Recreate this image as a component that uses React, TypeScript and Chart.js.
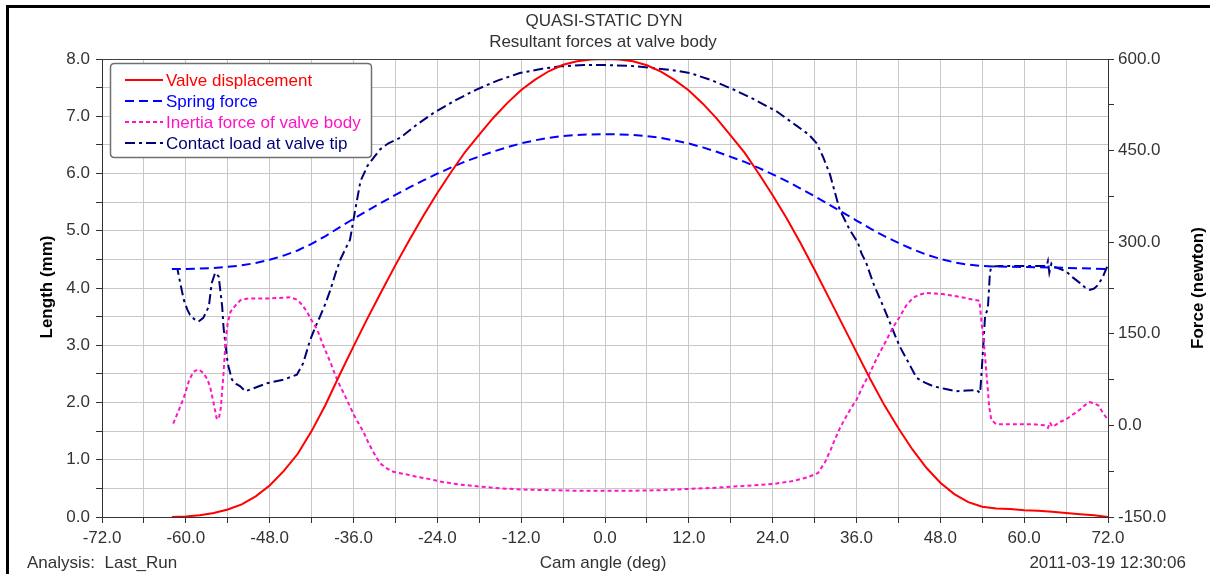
import React, { useEffect, useRef } from 'react';
import { Chart, registerables } from 'chart.js';
Chart.register(...registerables);

// ---------- data (cam angle in deg) ----------
const dispAngles = [
  -62, -60, -58, -56, -54, -52, -50, -48, -46, -44, -42, -40, -38, -36, -34, -32,
  -30, -28, -26, -24, -22, -20, -18, -16, -14, -12, -10, -8, -6, -4, -2, 0,
  2, 4, 6, 8, 10, 12, 14, 16, 18, 20, 22, 24, 26, 28, 30, 32, 34, 36, 38, 40,
  42, 44, 46, 48, 50, 52, 54, 56, 58, 60, 62, 64, 66, 68, 70, 72,
];
// Valve displacement (mm)
const dispValues = [
  0, 0.01, 0.03, 0.07, 0.13, 0.22, 0.36, 0.55, 0.8, 1.1, 1.5, 1.96, 2.48, 2.98, 3.47, 3.94,
  4.4, 4.84, 5.26, 5.66, 6.03, 6.38, 6.68, 6.97, 7.23, 7.46, 7.64, 7.79, 7.9, 7.96, 7.99, 8.0,
  7.99, 7.96, 7.89, 7.78, 7.63, 7.45, 7.22, 6.96, 6.66, 6.36, 6.0, 5.62, 5.22, 4.78, 4.32, 3.84,
  3.36, 2.88, 2.4, 1.95, 1.55, 1.18, 0.86, 0.6, 0.4, 0.26, 0.18, 0.15, 0.14, 0.12, 0.11, 0.09,
  0.07, 0.05, 0.03, 0.0,
];
// Spring force (N)
const springValues = [
  256, 256.3, 256.8, 257.9, 259.6, 262.1, 265.9, 271.2, 278.1, 286.4, 297.4, 310.1, 324.4, 338.2, 351.8, 364.7,
  377.4, 389.6, 401.2, 412.2, 422.4, 432.1, 440.4, 448.4, 455.5, 461.9, 466.9, 471.0, 474.0, 475.7, 476.5, 476.8,
  476.5, 475.7, 473.8, 470.7, 466.6, 461.6, 455.3, 448.1, 439.8, 431.5, 421.6, 411.1, 400.1, 387.9, 375.2, 362.0,
  348.7, 335.5, 322.2, 309.8, 298.8, 288.6, 279.7, 272.6, 267.0, 263.2, 261.0, 260.1, 259.9, 259.3, 259.0, 258.5,
  257.9, 257.4, 256.8, 256,
];
// Inertia force of valve body (N)
const inertiaAngles = [
  -61.8, -61.0, -60.3, -59.5, -58.9, -58.2, -57.5, -56.9, -56.5, -56.0, -55.6, -55.3, -55.0, -54.6, -54.3, -54.0,
  -53.6, -53.0, -52.2, -51.5, -50.8, -48, -46, -45.1, -44.1, -43.4, -42.7, -42.0, -41.2, -40.3, -39.3, -38.6,
  -37.9, -37.2, -36.5, -36.0, -35.3, -34.6, -33.8, -33.1, -32.2, -31.3, -30.3, -28.5, -27, -25, -23.6, -20.7,
  -18, -15, -12, -8, -4, 0, 4, 8, 12, 16, 20, 24, 27, 29, 30.5, 31.5,
  32.3, 32.9, 33.6, 34.4, 35.2, 36.0, 36.9, 37.9, 39.0, 40.3, 41.2, 42.2, 43.1, 44.1, 45.0, 46.0,
  47.2, 48.4, 50.5, 52.7, 53.6, 53.9, 54.2, 54.4, 54.6, 54.8, 55.0, 55.3, 56.0, 58, 61.3, 63.0,
  63.4, 63.7, 64.0, 64.4, 65.2, 66.0, 67.0, 68.0, 68.8, 69.4, 70.0, 70.6, 71.2, 71.8, 72,
];
const inertiaValues = [
  3, 25, 45, 75, 88, 92, 86, 75, 62, 35, 12, 10, 28, 86, 140, 168,
  186, 195, 205, 207, 208, 208, 209, 210, 206, 198, 187, 172, 157, 130, 103, 82,
  64, 48, 31, 18, 4, -10, -30, -45, -62, -70, -76, -80, -84, -88, -92, -97,
  -100, -103, -105, -106, -107, -107, -107, -106, -104, -102, -99, -96, -91, -85, -78, -60,
  -40, -23, -5, 12, 28, 42, 64, 86, 112, 140, 160, 178, 196, 209, 214, 217,
  216, 215, 211, 206, 204, 168, 140, 113, 85, 58, 30, 9, 2, 2, 2, 0,
  -4, 5, -2, 0, 6, 10, 18, 26, 34, 38, 36, 33, 22, 12, 8,
];
// Contact load at valve tip (N)
const contactAngles = [
  -61.8, -61.2, -60.8, -60.3, -59.8, -59.4, -58.8, -58.2, -57.5, -56.7, -56.3, -55.8, -55.3, -54.8, -54.6, -54.4,
  -54.1, -53.9, -53.4, -52.8, -52.2, -51.5, -50, -48.4, -46, -44.1, -43.2, -42.2, -41.5, -40.8, -40, -39.3,
  -38.6, -37.9, -37.2, -36.5, -35.8, -35, -34, -33, -32.2, -31, -29.3, -27, -24.5, -21.5, -18.4, -15.3,
  -12.2, -9, -6.4, -3, 0, 3.5, 6.9, 9.5, 12.2, 15.3, 18.4, 21.5, 24.6, 27.5, 29.2, 30.3,
  31.2, 32.2, 33.6, 35.0, 36.2, 36.7, 37.4, 38.4, 39.3, 40.0, 40.8, 41.5, 42.2, 43.2, 44.6, 45.8,
  47.0, 48.6, 50.3, 51.8, 53.2, 53.7, 53.9, 54.2, 54.4, 54.6, 54.8, 55.0, 55.1, 55.3, 56.5, 58,
  60, 62, 63.2, 63.4, 63.6, 63.9, 64.2, 65, 66.0, 67, 68.0, 68.7, 69.4, 70.0, 70.4, 71.0,
  71.3, 71.8, 72,
];
const contactValues = [
  256, 256, 233, 206, 190, 181, 174, 170, 176, 195, 233, 250, 244, 195, 160, 140,
  110, 97, 75, 68, 64, 56, 62, 69, 75, 83, 102, 140, 160, 178, 200, 222,
  248, 271, 288, 304, 350, 400, 425, 440, 452, 462, 471, 492, 512, 532, 550, 565,
  577, 584, 588, 590, 590, 589, 585, 582, 577, 565, 550, 533, 514, 490, 476, 462,
  440, 411, 353, 321, 299, 282, 266, 233, 209, 190, 168, 148, 129, 108, 78, 70,
  64, 60, 56, 57, 58, 53, 86, 140, 178, 185, 191, 230, 250, 260, 261, 261,
  261, 261, 261, 269, 250, 265, 260, 257, 252, 242, 233, 226, 222, 224, 228, 238,
  244, 258, 260,
];

// tick labels
const xLabelValues = [-72, -60, -48, -36, -24, -12, 0, 12, 24, 36, 48, 60, 72];
const lengthLabelValues = [0, 1, 2, 3, 4, 5, 6, 7, 8];
const forceLabelValues = [-150, 0, 150, 300, 450, 600];

const seriesNames = [
  'Valve displacement',
  'Spring force',
  'Inertia force of valve body',
  'Contact load at valve tip',
];
const seriesColors = ['#ff0000', '#0000ff', '#ff14c4', '#000078'];
const seriesDashes: number[][] = [[], [9, 5], [4, 3], [10, 4, 3, 4]];

const FONT = '"Liberation Sans", Arial, sans-serif';
const TEXT = '#333333';

const zip = (xs: number[], ys: number[]) => xs.map((x, i) => ({ x, y: ys[i] }));

const PLOT_L = 102;
const PLOT_R = 1108;
const PLOT_T = 59;
const PLOT_B = 517;
const W = 1212;
const H = 574;

const decorPlugin = {
  id: 'decor',
  beforeDraw(chart: any) {
    const ctx = chart.ctx;
    ctx.save();
    ctx.fillStyle = '#ffffff';
    ctx.fillRect(0, 0, W, H);
    ctx.restore();
  },
  afterDraw(chart: any) {
    const ctx = chart.ctx;
    const ca = chart.chartArea;
    ctx.save();
    // outer frame
    ctx.fillStyle = '#000';
    ctx.fillRect(6, 5, 1204, 3);
    ctx.fillRect(6, 5, 3, H - 5);
    // top border of plot
    ctx.strokeStyle = '#404040';
    ctx.lineWidth = 1;
    ctx.beginPath();
    ctx.moveTo(ca.left, ca.top + 0.5);
    ctx.lineTo(ca.right, ca.top + 0.5);
    ctx.stroke();

    // titles
    ctx.fillStyle = TEXT;
    ctx.font = `17px ${FONT}`;
    ctx.textAlign = 'center';
    ctx.textBaseline = 'middle';
    ctx.fillText('QUASI-STATIC DYN', 604, 21);
    ctx.fillText('Resultant forces at valve body', 603, 42);
    ctx.fillText('Cam angle (deg)', 603, 563);
    ctx.textAlign = 'left';
    ctx.fillText('Analysis:  Last_Run', 27, 563);
    ctx.textAlign = 'right';
    ctx.fillText('2011-03-19 12:30:06', 1186, 563);

    // axis titles
    ctx.fillStyle = '#000';
    ctx.font = `bold 17px ${FONT}`;
    ctx.textAlign = 'center';
    ctx.save();
    ctx.translate(47, 287);
    ctx.rotate(-Math.PI / 2);
    ctx.fillText('Length (mm)', 0, 0);
    ctx.restore();
    ctx.save();
    ctx.translate(1198, 288);
    ctx.rotate(-Math.PI / 2);
    ctx.fillText('Force (newton)', 0, 0);
    ctx.restore();

    // legend box
    const bx = 110.5, by = 63.5, bw = 261, bh = 94, r = 4;
    ctx.beginPath();
    ctx.moveTo(bx + r, by);
    ctx.lineTo(bx + bw - r, by);
    ctx.quadraticCurveTo(bx + bw, by, bx + bw, by + r);
    ctx.lineTo(bx + bw, by + bh - r);
    ctx.quadraticCurveTo(bx + bw, by + bh, bx + bw - r, by + bh);
    ctx.lineTo(bx + r, by + bh);
    ctx.quadraticCurveTo(bx, by + bh, bx, by + bh - r);
    ctx.lineTo(bx, by + r);
    ctx.quadraticCurveTo(bx, by, bx + r, by);
    ctx.closePath();
    ctx.fillStyle = '#fff';
    ctx.fill();
    ctx.strokeStyle = '#707070';
    ctx.lineWidth = 1.5;
    ctx.stroke();

    const rows = [80, 101, 122, 143];
    ctx.font = `17px ${FONT}`;
    ctx.textAlign = 'left';
    ctx.textBaseline = 'middle';
    seriesNames.forEach((name, i) => {
      ctx.strokeStyle = seriesColors[i];
      ctx.lineWidth = 2;
      ctx.setLineDash(seriesDashes[i]);
      ctx.beginPath();
      ctx.moveTo(125, rows[i]);
      ctx.lineTo(163, rows[i]);
      ctx.stroke();
      ctx.setLineDash([]);
      ctx.fillStyle = seriesColors[i];
      ctx.fillText(name, 166, rows[i] + 1);
    });
    ctx.restore();
  },
};

export default function App() {
  const ref = useRef<HTMLCanvasElement | null>(null);
  useEffect(() => {
    const canvas = ref.current;
    if (!canvas) return;
    const datasets = [
      { data: zip(dispAngles, dispValues), yAxisID: 'y' },
      { data: zip(dispAngles, springValues), yAxisID: 'y1' },
      { data: zip(inertiaAngles, inertiaValues), yAxisID: 'y1' },
      { data: zip(contactAngles, contactValues), yAxisID: 'y1' },
    ].map((d, i) => ({
      label: seriesNames[i],
      data: d.data,
      yAxisID: d.yAxisID,
      borderColor: seriesColors[i],
      backgroundColor: seriesColors[i],
      borderWidth: 2,
      borderDash: seriesDashes[i],
      pointRadius: 0,
      tension: 0,
      fill: false,
    }));
    const tickFont = { family: FONT, size: 17 };
    const chart = new Chart(canvas, {
      type: 'line',
      data: { datasets },
      plugins: [decorPlugin],
      options: {
        animation: false,
        responsive: false,
        maintainAspectRatio: false,
        events: [],
        layout: { padding: { top: PLOT_T, left: 0, right: 0, bottom: 0 } },
        plugins: {
          legend: { display: false },
          title: { display: false },
          tooltip: { enabled: false },
        },
        scales: {
          x: {
            type: 'linear',
            position: 'bottom',
            min: -72,
            max: 72,
            ticks: {
              stepSize: 6,
              autoSkip: false,
              maxRotation: 0,
              padding: 5,
              color: TEXT,
              font: tickFont,
              callback: (v: any) => (xLabelValues.includes(Number(v)) ? Number(v).toFixed(1) : ''),
            },
            grid: { color: '#c8c8c8', tickColor: '#333', tickLength: 6, lineWidth: 1 },
            border: { color: '#333', width: 1 },
            afterFit: (s: any) => { s.height = H - PLOT_B; },
          },
          y: {
            type: 'linear',
            position: 'left',
            min: 0,
            max: 8,
            ticks: {
              stepSize: 0.5,
              autoSkip: false,
              padding: 6,
              color: TEXT,
              font: tickFont,
              callback: (v: any) => (lengthLabelValues.includes(Number(v)) ? Number(v).toFixed(1) : ''),
            },
            grid: { color: '#c8c8c8', tickColor: '#333', tickLength: 6, lineWidth: 1 },
            border: { color: '#333', width: 1 },
            afterFit: (s: any) => { s.width = PLOT_L; },
          },
          y1: {
            type: 'linear',
            position: 'right',
            min: -150,
            max: 600,
            ticks: {
              stepSize: 75,
              autoSkip: false,
              padding: 4,
              color: TEXT,
              font: tickFont,
              callback: (v: any) => (forceLabelValues.includes(Number(v)) ? Number(v).toFixed(1) : ''),
            },
            grid: { drawOnChartArea: false, color: '#c8c8c8', tickColor: '#333', tickLength: 6 },
            border: { color: '#333', width: 1 },
            afterFit: (s: any) => { s.width = W - PLOT_R; },
          },
        },
      } as any,
    });
    return () => chart.destroy();
  }, []);
  return (
    <div style={{ position: 'absolute', left: 0, top: 0, width: W, height: H, background: '#fff' }}>
      <canvas ref={ref} width={W} height={H} style={{ display: 'block' }} />
    </div>
  );
}
